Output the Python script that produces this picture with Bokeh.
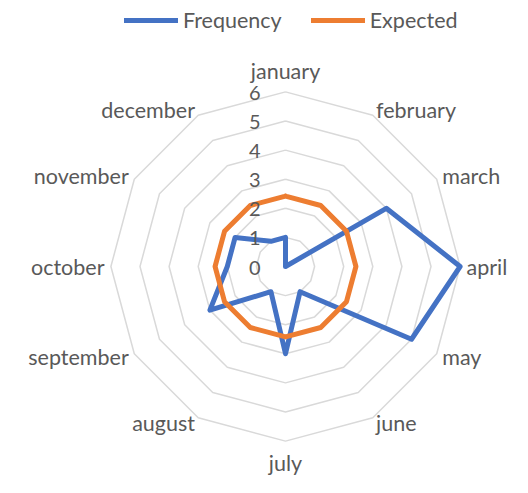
import numpy as np
from bokeh.plotting import figure
from bokeh.models import Range1d, Legend, LegendItem
from bokeh.core.properties import value
from bokeh.embed import file_html
from bokeh.resources import INLINE

months = ["january", "february", "march", "april", "may", "june",
          "july", "august", "september", "october", "november", "december"]
frequency = [1, 0, 4, 6, 5, 1, 3, 1, 3, 2, 2, 1]
expected = [2.42, 2.42, 2.42, 2.42, 2.42, 2.42, 2.42, 2.42, 2.42, 2.42, 2.42, 2.42]
ring_ticks = [0, 1, 2, 3, 4, 5, 6]

BLUE = "#4472C4"
ORANGE = "#ED7D31"
GRID = "#D9D9D9"
TXT = "#595959"
FONT = "Lato"
FS = "21.5px"

W, H = 512, 477
PX = 29.1            # pixels per unit
CX, CY = 285, 266    # center in figure pixels (from top-left)

p = figure(width=W, height=H, output_backend="svg", toolbar_location=None,
           x_range=Range1d(-CX / PX, (W - CX) / PX),
           y_range=Range1d(-(H - CY) / PX, CY / PX),
           min_border=0, outline_line_color=None)
p.xaxis.visible = False
p.yaxis.visible = False
p.grid.visible = False
p.background_fill_color = "white"
p.border_fill_color = "white"

n = len(months)
theta = np.pi / 2 - np.arange(n) * 2 * np.pi / n
ct, st = np.cos(theta), np.sin(theta)

def closed(vals):
    v = np.asarray(vals, dtype=float)
    xs = v * ct
    ys = v * st
    return list(xs) + [xs[0]], list(ys) + [ys[0]]

# grid rings
for r in ring_ticks[1:]:
    gx, gy = closed([r] * n)
    p.line(gx, gy, line_color=GRID, line_width=1.5)

# data series
fx, fy = closed(frequency)
ex, ey = closed(expected)
r_freq = p.line(fx, fy, line_color=BLUE, line_width=5, line_join="round", line_cap="round")
r_exp = p.line(ex, ey, line_color=ORANGE, line_width=5, line_join="round", line_cap="round")

# radial tick labels
p.text(x=[0] * len(ring_ticks), y=ring_ticks, text=[str(t) for t in ring_ticks],
       x_offset=-25, y_offset=1, text_align="right", text_baseline="middle",
       text_font=value(FONT), text_font_size="20px", text_color=TXT)

# category labels
RL_SIDE = 181 / PX
RL_TB = 183 / PX
groups = {}
for i, m in enumerate(months):
    c, s = ct[i], st[i]
    if abs(c) < 0.1:
        align = "center"
        base = "bottom" if s > 0 else "top"
        rl = RL_TB
    else:
        align = "left" if c > 0 else "right"
        base = "middle"
        rl = RL_SIDE
    groups.setdefault((align, base), []).append((rl * c, rl * s, m))
for (align, base), items in groups.items():
    p.text(x=[a[0] for a in items], y=[a[1] for a in items], text=[a[2] for a in items],
           text_align=align, text_baseline=base,
           text_font=value(FONT), text_font_size=FS, text_color=TXT)

legend = Legend(items=[LegendItem(label="Frequency", renderers=[r_freq]),
                       LegendItem(label="Expected", renderers=[r_exp])],
                orientation="horizontal", location=(124, H - 33),
                glyph_width=54, glyph_height=26, label_height=26,
                label_standoff=5, spacing=29,
                margin=0, padding=0,
                label_text_font=FONT, label_text_font_size=FS, label_text_color=TXT,
                border_line_color=None, background_fill_alpha=0)
p.add_layout(legend, "center")

open("out.html", "w").write(file_html(p, INLINE))
